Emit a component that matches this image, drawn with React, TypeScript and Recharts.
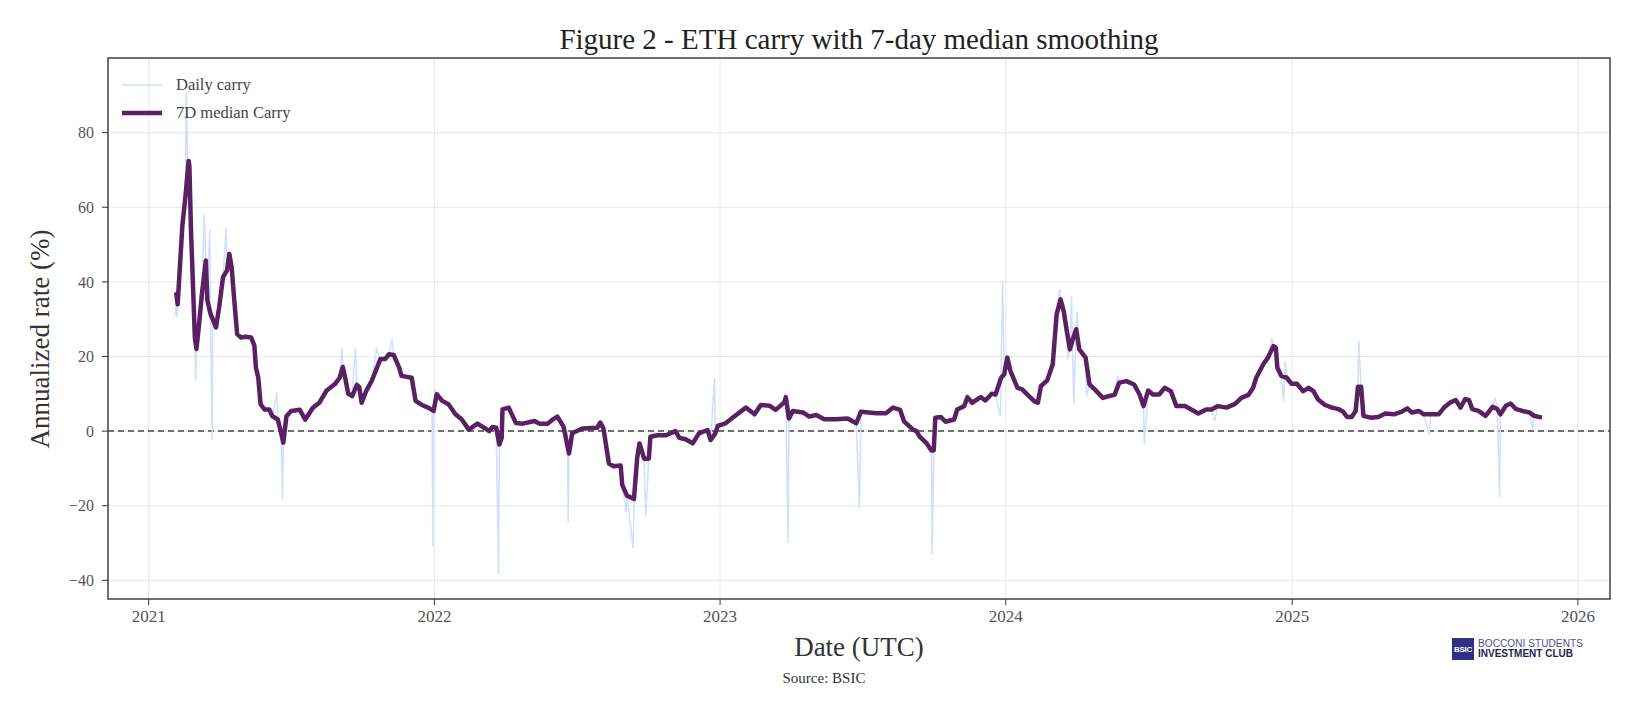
import React from 'react';
import { LineChart, Line, XAxis, YAxis, CartesianGrid, ReferenceLine, ReferenceArea, Legend } from 'recharts';

// 7-day median carry (%)
const MEDIAN_CARRY: [string, number][] = [
  ['2021-02-05', 37.2], ['2021-02-07', 34.0], ['2021-02-11', 48.0], ['2021-02-13', 55.0],
  ['2021-02-17', 63.0], ['2021-02-20', 70.0], ['2021-02-21', 72.4], ['2021-02-22', 71.0],
  ['2021-02-24', 54.0], ['2021-03-01', 25.0], ['2021-03-03', 22.0], ['2021-03-06', 27.8],
  ['2021-03-10', 36.8], ['2021-03-15', 45.7], ['2021-03-17', 35.0], ['2021-03-21', 31.4],
  ['2021-03-28', 27.8], ['2021-04-01', 33.2], ['2021-04-06', 41.3], ['2021-04-11', 43.0],
  ['2021-04-14', 47.5], ['2021-04-17', 43.9], ['2021-04-20', 35.9], ['2021-04-24', 26.0],
  ['2021-04-29', 25.1], ['2021-05-05', 25.3], ['2021-05-12', 25.1], ['2021-05-16', 22.9],
  ['2021-05-18', 17.0], ['2021-05-21', 14.3], ['2021-05-24', 7.2], ['2021-05-29', 5.8],
  ['2021-06-04', 5.8], ['2021-06-08', 4.0], ['2021-06-15', 3.1], ['2021-06-19', -0.4],
  ['2021-06-22', -3.1], ['2021-06-26', 4.0], ['2021-07-02', 5.4], ['2021-07-13', 5.7],
  ['2021-07-20', 3.1], ['2021-07-30', 6.3], ['2021-08-07', 7.6], ['2021-08-16', 10.8],
  ['2021-08-27', 12.6], ['2021-09-02', 14.3], ['2021-09-06', 17.2], ['2021-09-09', 14.3],
  ['2021-09-13', 10.0], ['2021-09-18', 9.4], ['2021-09-24', 12.4], ['2021-09-27', 11.8],
  ['2021-09-30', 7.6], ['2021-10-06', 10.8], ['2021-10-13', 13.5], ['2021-10-24', 19.3],
  ['2021-10-30', 19.3], ['2021-11-04', 20.6], ['2021-11-10', 20.4], ['2021-11-17', 17.0],
  ['2021-11-20', 14.8], ['2021-12-03', 14.3], ['2021-12-08', 8.1], ['2021-12-16', 7.0],
  ['2021-12-24', 6.3], ['2021-12-31', 5.4],
  ['2022-01-04', 9.9], ['2022-01-11', 8.1], ['2022-01-19', 7.2], ['2022-01-28', 4.5],
  ['2022-02-05', 3.1], ['2022-02-14', 0.4], ['2022-02-25', 2.0], ['2022-03-07', 0.7],
  ['2022-03-12', 0.0], ['2022-03-16', 1.1], ['2022-03-21', 0.9], ['2022-03-25', -3.6],
  ['2022-03-28', -1.8], ['2022-03-29', 5.8], ['2022-04-06', 6.3], ['2022-04-15', 2.2],
  ['2022-04-24', 2.0], ['2022-05-09', 2.7], ['2022-05-15', 2.0], ['2022-05-26', 2.0],
  ['2022-06-01', 3.1], ['2022-06-07', 3.9], ['2022-06-15', 1.2], ['2022-06-22', -6.0],
  ['2022-06-26', -0.6], ['2022-07-09', 0.7], ['2022-07-28', 0.9], ['2022-08-01', 2.3],
  ['2022-08-05', 0.7], ['2022-08-12', -8.7], ['2022-08-18', -9.4], ['2022-08-27', -9.2],
  ['2022-08-29', -14.4], ['2022-09-04', -17.3], ['2022-09-13', -18.2], ['2022-09-17', -7.4],
  ['2022-09-20', -3.3], ['2022-09-26', -7.4], ['2022-10-02', -7.4], ['2022-10-04', -1.5],
  ['2022-10-13', -1.1], ['2022-10-24', -1.1], ['2022-11-05', 0.0], ['2022-11-10', -1.8],
  ['2022-11-18', -2.2], ['2022-11-27', -3.3], ['2022-12-05', -0.6], ['2022-12-16', 0.3],
  ['2022-12-20', -2.4], ['2022-12-26', -0.6], ['2022-12-29', 1.4],
  ['2023-01-08', 2.1], ['2023-01-19', 3.9], ['2023-02-03', 6.3], ['2023-02-14', 4.5],
  ['2023-02-22', 7.0], ['2023-03-05', 6.8], ['2023-03-13', 5.7], ['2023-03-24', 7.7],
  ['2023-03-26', 9.1], ['2023-03-30', 3.4], ['2023-04-04', 5.4], ['2023-04-17', 5.0],
  ['2023-04-25', 3.9], ['2023-05-04', 4.3], ['2023-05-14', 3.2], ['2023-05-29', 3.2],
  ['2023-06-13', 3.4], ['2023-06-24', 2.1], ['2023-06-30', 5.2], ['2023-07-20', 4.8],
  ['2023-08-01', 4.8], ['2023-08-10', 6.3], ['2023-08-19', 5.7], ['2023-08-24', 2.6],
  ['2023-09-05', 0.3], ['2023-09-09', 0.0], ['2023-09-13', -1.5], ['2023-09-22', -3.3],
  ['2023-09-28', -5.2], ['2023-10-01', -5.2], ['2023-10-03', 3.6], ['2023-10-10', 3.8],
  ['2023-10-16', 2.5], ['2023-10-27', 3.1], ['2023-10-31', 5.8], ['2023-11-09', 6.7],
  ['2023-11-13', 9.1], ['2023-11-19', 7.6], ['2023-11-30', 9.1], ['2023-12-06', 8.2],
  ['2023-12-14', 10.0], ['2023-12-19', 9.8], ['2023-12-26', 14.3], ['2023-12-30', 15.2],
  ['2024-01-03', 19.7], ['2024-01-07', 16.1], ['2024-01-16', 11.6], ['2024-01-22', 11.2],
  ['2024-01-29', 9.7], ['2024-02-06', 8.1], ['2024-02-11', 7.6], ['2024-02-15', 12.1],
  ['2024-02-23', 13.6], ['2024-03-01', 17.9], ['2024-03-06', 31.3], ['2024-03-11', 35.3],
  ['2024-03-15', 32.2], ['2024-03-19', 26.8], ['2024-03-23', 21.9], ['2024-03-26', 24.2],
  ['2024-03-31', 27.3], ['2024-04-04', 21.9], ['2024-04-12', 19.7], ['2024-04-17', 12.5],
  ['2024-04-25', 10.9], ['2024-05-04', 8.9], ['2024-05-12', 9.4], ['2024-05-19', 9.7],
  ['2024-05-25', 13.0], ['2024-06-03', 13.4], ['2024-06-13', 12.5], ['2024-06-20', 9.8],
  ['2024-06-25', 6.7], ['2024-07-01', 10.9], ['2024-07-07', 9.8], ['2024-07-15', 9.8],
  ['2024-07-22', 11.6], ['2024-07-30', 10.7], ['2024-08-06', 6.7], ['2024-08-17', 6.7],
  ['2024-08-25', 5.8], ['2024-09-03', 4.7], ['2024-09-13', 5.8], ['2024-09-20', 5.8],
  ['2024-09-28', 6.7], ['2024-10-09', 6.3], ['2024-10-20', 7.3], ['2024-10-28', 8.9],
  ['2024-11-06', 9.7], ['2024-11-12', 11.6], ['2024-11-16', 14.3], ['2024-11-25', 17.9],
  ['2024-12-01', 19.7], ['2024-12-08', 22.8], ['2024-12-11', 22.4], ['2024-12-13', 17.0],
  ['2024-12-18', 14.8], ['2024-12-25', 14.3], ['2024-12-31', 12.7],
  ['2025-01-07', 12.7], ['2025-01-15', 10.7], ['2025-01-22', 11.6], ['2025-01-28', 10.7],
  ['2025-02-03', 8.5], ['2025-02-12', 7.0], ['2025-02-21', 6.3], ['2025-03-01', 5.9],
  ['2025-03-07', 5.2], ['2025-03-12', 3.8], ['2025-03-18', 3.8], ['2025-03-23', 5.4],
  ['2025-03-26', 11.9], ['2025-03-30', 11.9], ['2025-04-02', 4.1], ['2025-04-11', 3.6],
  ['2025-04-21', 3.8], ['2025-04-30', 4.7], ['2025-05-11', 4.5], ['2025-05-21', 5.2],
  ['2025-05-28', 6.1], ['2025-06-03', 5.0], ['2025-06-12', 5.4], ['2025-06-18', 4.5],
  ['2025-06-27', 4.5], ['2025-07-07', 4.5], ['2025-07-14', 6.3], ['2025-07-22', 7.7],
  ['2025-07-29', 8.3], ['2025-08-04', 6.3], ['2025-08-10', 8.6], ['2025-08-15', 8.3],
  ['2025-08-19', 5.9], ['2025-08-27', 5.4], ['2025-09-05', 4.1], ['2025-09-14', 6.5],
  ['2025-09-20', 5.9], ['2025-09-24', 4.5], ['2025-10-01', 6.8], ['2025-10-07', 7.4],
  ['2025-10-14', 5.9], ['2025-10-22', 5.4], ['2025-10-31', 5.0], ['2025-11-06', 4.1],
  ['2025-11-16', 3.6],
];

// daily readings that stand away from the median (spikes)
const DAILY_SPIKES: [string, number][] = [
  ['2021-02-04', 31.0], ['2021-02-06', 30.5], ['2021-02-18', 91.0], ['2021-03-02', 13.5],
  ['2021-03-13', 58.0], ['2021-03-20', 54.0], ['2021-03-23', -2.2], ['2021-03-24', 30.0],
  ['2021-04-10', 54.5], ['2021-06-14', 10.3], ['2021-06-21', -18.4], ['2021-09-05', 22.4],
  ['2021-09-22', 22.4], ['2021-10-19', 21.9], ['2021-11-08', 24.7], ['2021-12-29', 6.0],
  ['2021-12-30', -30.9], ['2022-01-02', 11.2], ['2022-03-24', -38.5], ['2022-06-20', 0.0],
  ['2022-06-21', -24.5], ['2022-09-03', -21.8], ['2022-09-12', -31.3], ['2022-09-28', -22.7],
  ['2022-12-25', 14.2], ['2023-03-25', 10.2], ['2023-03-29', -29.9], ['2023-06-28', -20.7],
  ['2023-09-29', -33.3], ['2023-12-25', 4.0], ['2023-12-28', 40.3], ['2024-03-10', 38.0],
  ['2024-03-20', 19.2], ['2024-03-25', 36.2], ['2024-03-28', 7.2], ['2024-04-01', 32.0],
  ['2024-04-13', 9.4], ['2024-05-23', 14.8], ['2024-06-26', -3.6], ['2024-09-24', 2.7],
  ['2024-12-06', 25.0], ['2024-12-21', 8.0], ['2024-12-23', 18.8], ['2025-03-27', 24.3],
  ['2025-06-25', -0.9], ['2025-09-17', 9.0], ['2025-09-23', -17.6], ['2025-11-04', 0.5],
];

const SERIES_NAMES = ['Daily carry', '7D median Carry'];
const YEAR_TICKS = ['2021-01-01', '2022-01-01', '2023-01-01', '2024-01-01', '2025-01-01', '2026-01-01'];
const Y_TICKS = [-40, -20, 0, 20, 40, 60, 80];
const X_RANGE = ['2020-11-10', '2026-02-11'];
const Y_RANGE = [-45, 100];

const SERIF = '"Liberation Serif", "DejaVu Serif", serif';
const SANS = '"Liberation Sans", Roboto, sans-serif';

const toTime = (d: string) => Date.parse(d + 'T00:00:00Z');

const medianData = MEDIAN_CARRY.map(([d, v]) => ({ t: toTime(d), v }));
const dailyData = [...MEDIAN_CARRY, ...DAILY_SPIKES]
  .map(([d, v]) => ({ t: toTime(d), v }))
  .sort((a, b) => a.t - b.t);

const xDomain = X_RANGE.map(toTime);
const xTicks = YEAR_TICKS.map(toTime);

const formatYear = (t: number) => String(new Date(t).getUTCFullYear());
const formatPct = (v: number) => (v < 0 ? '\u2212' + Math.abs(v) : String(v));

const renderLegend = (props: any) => {
  // keep the plotting order (daily first), whatever order the payload comes in
  const items = [...(props.payload || [])].sort(
    (a: any, b: any) => SERIES_NAMES.indexOf(a.value) - SERIES_NAMES.indexOf(b.value)
  );
  return (
    <div style={{ fontFamily: SERIF, fontSize: 16.5, color: '#444' }}>
      {items.map((entry: any) => (
        <div key={entry.value} style={{ display: 'flex', alignItems: 'center', height: 28 }}>
          <svg width={40} height={10} style={{ marginRight: 14 }}>
            <line x1={0} y1={5} x2={40} y2={5} stroke={entry.color}
              strokeWidth={entry.payload?.strokeWidth || 2} />
          </svg>
          <span>{entry.value}</span>
        </div>
      ))}
    </div>
  );
};

const App: React.FC = () => {
  return (
    <div style={{ position: 'absolute', left: 0, top: 0, width: 1648, height: 706, background: '#fff' }}>
      <div style={{
        position: 'absolute', left: 0, width: 1718, top: 21, textAlign: 'center',
        fontFamily: SERIF, fontSize: 29, color: '#222', lineHeight: '36px'
      }}>
        Figure 2 - ETH carry with 7-day median smoothing
      </div>

      <LineChart width={1648} height={706} margin={{ top: 58, right: 38, bottom: 77, left: 48 }}>
        <CartesianGrid stroke="#e8e8e8" strokeWidth={1} />
        <XAxis
          dataKey="t"
          type="number"
          domain={xDomain}
          ticks={xTicks}
          tickFormatter={formatYear}
          allowDataOverflow
          height={30}
          axisLine={false}
          tickLine={{ stroke: '#333' }}
          tickSize={6}
          tickMargin={5}
          tick={{ fill: '#555', fontSize: 17, fontFamily: SERIF }}
        />
        <YAxis
          type="number"
          domain={Y_RANGE}
          ticks={Y_TICKS}
          tickFormatter={formatPct}
          allowDataOverflow
          width={60}
          axisLine={false}
          tickLine={{ stroke: '#333' }}
          tickSize={6}
          tickMargin={8}
          tick={{ fill: '#555', fontSize: 16, fontFamily: SERIF }}
        />
        <ReferenceLine y={0} stroke="#444" strokeWidth={1.5} strokeDasharray="6 4" />
        <Line
          data={dailyData}
          dataKey="v"
          name="Daily carry"
          type="linear"
          stroke="#cfe0fa"
          strokeWidth={1.5}
          dot={false}
          isAnimationActive={false}
        />
        <Line
          data={medianData}
          dataKey="v"
          name="7D median Carry"
          type="linear"
          stroke="#5a2162"
          strokeWidth={4.5}
          strokeLinejoin="round"
          dot={false}
          isAnimationActive={false}
        />
        <ReferenceArea
          x1={xDomain[0]}
          x2={xDomain[1]}
          y1={Y_RANGE[0]}
          y2={Y_RANGE[1]}
          fill="none"
          fillOpacity={0}
          stroke="#444"
          strokeWidth={1.5}
        />
        <Legend
          layout="horizontal"
          verticalAlign="middle"
          align="center"
          content={renderLegend}
          wrapperStyle={{ position: 'absolute', left: 122, top: 71, width: 260, height: 60 }}
        />
      </LineChart>

      <div style={{
        position: 'absolute', left: 40, top: 339, transform: 'translate(-50%, -50%) rotate(-90deg)',
        fontFamily: SERIF, fontSize: 27, color: '#333', whiteSpace: 'nowrap'
      }}>
        Annualized rate (%)
      </div>
      <div style={{
        position: 'absolute', left: 108, width: 1502, top: 630, textAlign: 'center',
        fontFamily: SERIF, fontSize: 27, color: '#333', lineHeight: '34px'
      }}>
        Date (UTC)
      </div>
      <div style={{
        position: 'absolute', left: 0, width: 1648, top: 668, textAlign: 'center',
        fontFamily: SERIF, fontSize: 15, color: '#333', lineHeight: '20px'
      }}>
        Source: BSIC
      </div>

      <div style={{ position: 'absolute', left: 1452, top: 638, display: 'flex', alignItems: 'center' }}>
        <div style={{
          width: 22, height: 22, background: '#2e2f86', color: '#fff', fontFamily: SANS,
          fontSize: 8, fontWeight: 700, display: 'flex', alignItems: 'center', justifyContent: 'center',
          letterSpacing: -0.3
        }}>
          BSIC
        </div>
        <div style={{ marginLeft: 4, fontFamily: SANS, lineHeight: '10px' }}>
          <div style={{ fontSize: 10, color: '#4b4d8c', letterSpacing: 0.1 }}>BOCCONI STUDENTS</div>
          <div style={{ fontSize: 10, color: '#23254f', fontWeight: 700 }}>INVESTMENT CLUB</div>
        </div>
      </div>
    </div>
  );
};

export default App;
